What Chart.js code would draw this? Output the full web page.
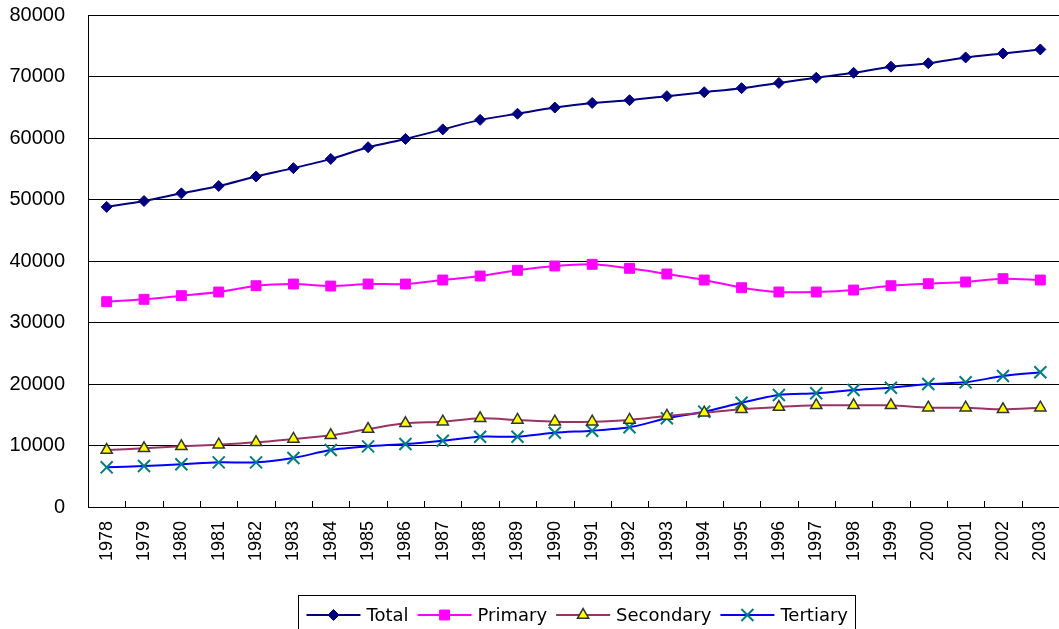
<!DOCTYPE html>
<html>
<head>
<meta charset="utf-8">
<script src="https://cdn.jsdelivr.net/npm/chart.js@4.4.0/dist/chart.umd.min.js"></script>
<style>
  html, body { margin: 0; padding: 0; background: #fff; }
  #wrap { width: 1059px; height: 629px; }
</style>
</head>
<body>
<div id="wrap"><canvas id="c" width="1059" height="629"></canvas></div>
<script>
// Employment by sector, 1978-2003
const years = ['1978','1979','1980','1981','1982','1983','1984','1985','1986','1987','1988','1989','1990',
               '1991','1992','1993','1994','1995','1996','1997','1998','1999','2000','2001','2002','2003'];

const total = [48800, 49750, 51000, 52200, 53750, 55100, 56600, 58500, 59850, 61400, 62950, 63950, 64950,
               65700, 66150, 66800, 67450, 68100, 68950, 69800, 70600, 71600, 72150, 73100, 73750, 74400];

const primary = [33380, 33770, 34360, 34960, 35980, 36260, 35930, 36260, 36260, 36910, 37560, 38490, 39190,
                 39460, 38810, 37890, 36910, 35660, 34960, 34960, 35280, 35980, 36310, 36590, 37120, 36910];

const secondary = [9250, 9540, 9860, 10130, 10510, 11060, 11650, 12680, 13600, 13870, 14420, 14150, 13870,
                   13870, 14150, 14800, 15330, 15890, 16260, 16530, 16530, 16530, 16150, 16150, 15890, 16150];

const tertiary = [6450, 6670, 6940, 7260, 7260, 7970, 9270, 9860, 10240, 10780, 11430, 11430, 12080,
                  12410, 12960, 14420, 15500, 16960, 18210, 18490, 19020, 19400, 20000, 20270, 21300, 21900];

const yTicks = { min: 0, max: 80000, step: 10000 };

const FONT = 'Liberation Sans, Arial, sans-serif';
const LEGEND_FONT = '"DejaVu Sans", sans-serif';

// Small inward tick marks on the category axis, plus a boxed legend that
// shows each series as a line sample with its marker.
const decorations = {
  id: 'decorations',
  afterDatasetsDraw(chart) {
    const ctx = chart.ctx;
    const xs = chart.scales.x;
    const bottom = chart.chartArea.bottom;
    ctx.save();
    ctx.strokeStyle = '#000';
    ctx.lineWidth = 1;
    for (let i = 0; i <= chart.data.labels.length; i++) {
      const x = Math.round(xs.getPixelForValue(i - 0.5)) + 0.5;
      ctx.beginPath();
      ctx.moveTo(x, bottom - 6);
      ctx.lineTo(x, bottom);
      ctx.stroke();
    }
    ctx.restore();
  },
  afterDraw(chart) {
    const ctx = chart.ctx;
    const sets = chart.data.datasets;
    const sample = 54, gapText = 6, gapItem = 9, pad = 8;
    ctx.save();
    ctx.font = '18px ' + LEGEND_FONT;
    ctx.textBaseline = 'middle';
    ctx.textAlign = 'left';
    const widths = sets.map(d => ctx.measureText(d.label).width);
    let boxW = pad * 2;
    widths.forEach((w, i) => { boxW += sample + gapText + w + (i < widths.length - 1 ? gapItem : 0); });
    const cx = 577;
    const boxL = Math.round(cx - boxW / 2) + 0.5;
    const boxT = 595.5;
    const cy = 615;
    ctx.strokeStyle = '#000';
    ctx.lineWidth = 1;
    ctx.strokeRect(boxL, boxT, Math.round(boxW), 60);
    let x = boxL + pad;
    sets.forEach((d, i) => {
      ctx.strokeStyle = d.borderColor;
      ctx.lineWidth = d.borderWidth;
      ctx.beginPath();
      ctx.moveTo(x, cy);
      ctx.lineTo(x + sample, cy);
      ctx.stroke();
      ctx.fillStyle = d.pointBackgroundColor;
      ctx.strokeStyle = d.pointBorderColor;
      ctx.lineWidth = d.pointBorderWidth;
      Chart.helpers.drawPoint(ctx, {
        pointStyle: d.pointStyle, rotation: 0,
        radius: d.pointRadius, borderWidth: d.pointBorderWidth
      }, x + sample / 2, cy);
      ctx.fillStyle = '#000';
      ctx.fillText(d.label, x + sample + gapText, cy + 1);
      x += sample + gapText + widths[i] + gapItem;
    });
    ctx.restore();
  }
};

new Chart(document.getElementById('c').getContext('2d'), {
  type: 'line',
  data: {
    labels: years,
    datasets: [
      {
        label: 'Total', data: total,
        borderColor: '#000080', borderWidth: 2, tension: 0.25,
        pointStyle: 'rectRot', pointRadius: 5.5,
        pointBackgroundColor: '#000080', pointBorderColor: '#000080', pointBorderWidth: 1
      },
      {
        label: 'Primary', data: primary,
        borderColor: '#FF00FF', borderWidth: 2, tension: 0.25,
        pointStyle: 'rect', pointRadius: 7,
        pointBackgroundColor: '#FF00FF', pointBorderColor: '#FF00FF', pointBorderWidth: 1
      },
      {
        label: 'Secondary', data: secondary,
        borderColor: '#993366', borderWidth: 2, tension: 0.25,
        pointStyle: 'triangle', pointRadius: 6.5,
        pointBackgroundColor: '#FFFF00', pointBorderColor: '#333333', pointBorderWidth: 1.5
      },
      {
        label: 'Tertiary', data: tertiary,
        borderColor: '#0000FF', borderWidth: 2, tension: 0.25,
        pointStyle: 'crossRot', pointRadius: 8.5,
        pointBackgroundColor: '#008080', pointBorderColor: '#008080', pointBorderWidth: 2
      }
    ]
  },
  options: {
    responsive: false,
    animation: false,
    layout: { autoPadding: false, padding: { top: 15, left: 0, right: 0, bottom: 0 } },
    plugins: { legend: { display: false }, tooltip: { enabled: false } },
    scales: {
      x: {
        offset: true,
        grid: { display: false, drawTicks: false },
        border: { color: '#000', width: 1 },
        ticks: {
          minRotation: 90, maxRotation: 90, autoSkip: false, padding: 14,
          color: '#000', font: { family: FONT, size: 18 }
        },
        afterFit(s) { s.height = 122; s.paddingLeft = 0; s.paddingRight = 0; }
      },
      y: {
        min: yTicks.min, max: yTicks.max,
        grid: { color: '#000', lineWidth: 1, drawTicks: false },
        border: { color: '#000', width: 1 },
        ticks: {
          stepSize: yTicks.step, padding: 23,
          color: '#000', font: { family: FONT, size: 20 },
          callback: v => String(v)
        },
        afterFit(s) { s.width = 88; s.paddingTop = 0; s.paddingBottom = 0; }
      }
    }
  },
  plugins: [decorations]
});
</script>
</body>
</html>
